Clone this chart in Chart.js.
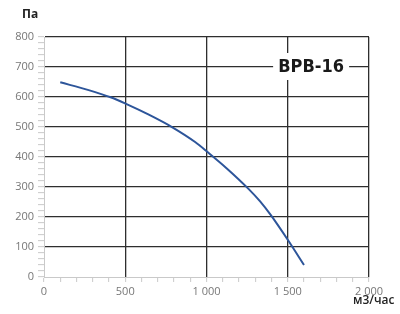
<!DOCTYPE html>
<html>
<head>
<meta charset="utf-8">
<script src="https://cdn.jsdelivr.net/npm/chart.js@4"></script>
<style>
html,body{margin:0;padding:0;background:#fff;}
#wrap{width:400px;height:314px;position:relative;}
</style>
</head>
<body>
<div id="wrap"><canvas id="c" width="400" height="314"></canvas></div>
<script>
// Data
const flowX = [100, 275, 410, 505, 645, 790, 930, 1010, 1125, 1260, 1330, 1395, 1505, 1600];
const pressure = [649, 623, 599, 577, 541, 499, 450, 415, 362, 293, 252, 207, 120, 40];
const xTickValues = [0, 500, 1000, 1500, 2000];
const xTickLabels = ['0', '500', '1 000', '1 500', '2 000'];
const yTickValues = [0, 100, 200, 300, 400, 500, 600, 700, 800];
const yTickLabels = ['0', '100', '200', '300', '400', '500', '600', '700', '800'];
const modelName = 'BPB-16';
const yUnit = 'Па';
const xUnit = 'м3/час';

const points = flowX.map((x, i) => ({x: x, y: pressure[i]}));

const GRID = '#2e2e2e';
const AXIS = '#c9c9c9';

const textPlugin = {
  id: 'texts',
  afterDraw(chart) {
    const ctx = chart.ctx;
    const xs = chart.scales.x, ys = chart.scales.y;
    ctx.save();
    const cx = xs.getPixelForValue(1650);
    const cy = ys.getPixelForValue(700);
    ctx.fillStyle = '#fff';
    ctx.fillRect(cx - 39, cy - 14, 76, 27);
    ctx.fillStyle = '#1a1a1a';
    ctx.font = 'bold 18px "DejaVu Sans Condensed", "DejaVu Sans"';
    ctx.textAlign = 'center';
    ctx.textBaseline = 'middle';
    ctx.fillText(modelName, cx - 1, cy + 0.5);
    ctx.font = 'bold 12px "Open Sans"';
    ctx.fillStyle = '#222';
    ctx.textAlign = 'left';
    ctx.fillText(yUnit, 22, 15);
    ctx.font = '600 12px "Open Sans"';
    ctx.fillText(xUnit, 353, 301);
    ctx.restore();
  }
};

new Chart(document.getElementById('c'), {
  type: 'line',
  data: {
    datasets: [{
      data: points,
      borderColor: '#2d559a',
      borderWidth: 2,
      pointRadius: 0,
      fill: false,
      cubicInterpolationMode: 'monotone'
    }]
  },
  options: {
    responsive: false,
    animation: false,
    events: [],
    layout: {padding: {top: 37, right: 31, left: 0, bottom: 0}},
    plugins: {legend: {display: false}, tooltip: {enabled: false}},
    scales: {
      x: {
        type: 'linear', min: 0, max: 2000,
        afterFit(s) { s.height = 37; },
        ticks: {
          stepSize: 100, autoSkip: false, maxRotation: 0, padding: 3,
          color: '#777', font: {family: 'Open Sans', size: 11},
          callback(v) { const i = xTickValues.indexOf(v); return i >= 0 ? xTickLabels[i] : ''; }
        },
        grid: {
          color(c) { const v = c.tick ? c.tick.value : 0; return (v % 500 === 0 && v !== 0) ? GRID : 'rgba(0,0,0,0)'; },
          lineWidth: 1.3,
          tickColor: AXIS, tickWidth: 1, tickLength: 5
        },
        border: {color: AXIS, width: 1}
      },
      y: {
        type: 'linear', min: 0, max: 800,
        afterFit(s) { s.width = 44; },
        ticks: {
          stepSize: 20, autoSkip: false, padding: 4,
          color: '#777', font: {family: 'Open Sans', size: 11},
          callback(v) { const i = yTickValues.indexOf(v); return i >= 0 ? yTickLabels[i] : ''; }
        },
        grid: {
          color(c) { const v = c.tick ? c.tick.value : 0; return (v % 100 === 0 && v !== 0) ? GRID : 'rgba(0,0,0,0)'; },
          lineWidth: 1.3,
          tickColor: AXIS, tickWidth: 1, tickLength: 6
        },
        border: {color: AXIS, width: 1}
      }
    }
  },
  plugins: [textPlugin]
});
</script>
</body>
</html>
